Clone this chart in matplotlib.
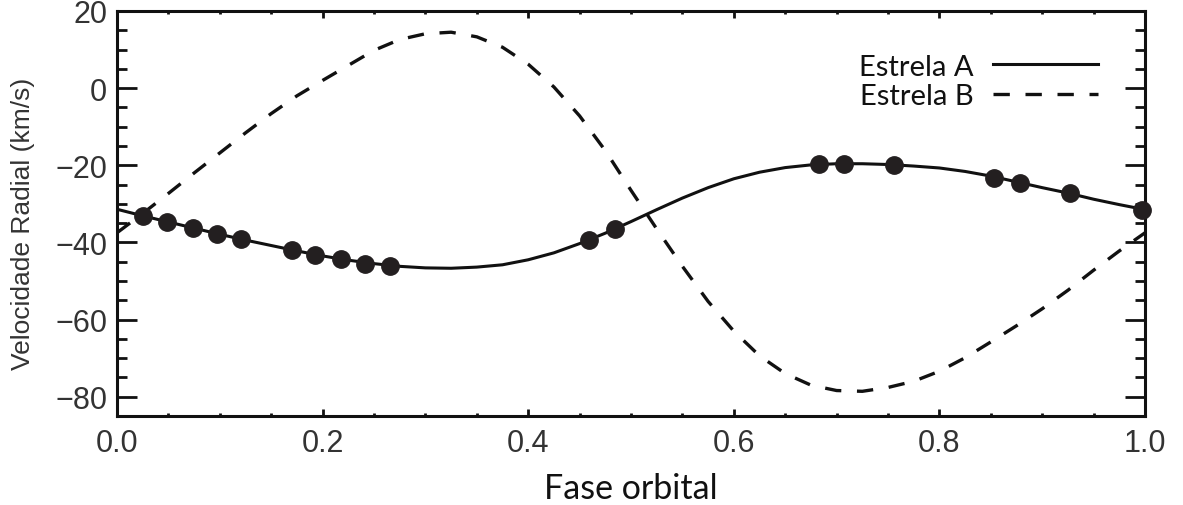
import numpy as np
import matplotlib
matplotlib.use("Agg")
import matplotlib.pyplot as plt
from matplotlib.ticker import MultipleLocator

# observed radial velocities of star A (phase, km/s)
obs_phase = [0.025, 0.049, 0.074, 0.097, 0.121, 0.170, 0.193, 0.218, 0.241, 0.266,
             0.459, 0.484, 0.683, 0.707, 0.756, 0.853, 0.878, 0.927, 0.997]
obs_vel_a = [-33.2, -34.7, -36.2, -37.7, -39.2, -41.9, -43.2, -44.4, -45.5, -46.1,
             -39.5, -36.6, -19.7, -19.7, -20.0, -23.2, -24.5, -27.2, -31.7]

# orbit model curves, read every 0.025 in phase
model_phase = [i / 40 for i in range(41)]
model_vel_a = [-31.4, -33.1, -34.7, -36.3, -37.9, -39.4, -40.8, -42.2, -43.5, -44.6,
               -45.5, -46.2, -46.6, -46.7, -46.4, -45.8, -44.5, -42.7, -40.3, -37.6,
               -34.6, -31.5, -28.5, -25.8, -23.5, -21.8, -20.6, -19.9, -19.6, -19.6,
               -19.8, -20.2, -20.7, -21.6, -22.8, -24.3, -25.8, -27.2, -28.8, -30.2,
               -31.5]
model_vel_b = [-37.5, -32.5, -27.3, -22.0, -16.8, -11.6, -6.6, -2.0, 2.0, 5.9,
               9.8, 12.6, 14.1, 14.5, 13.3, 10.6, 6.2, 0.3, -7.2, -16.2,
               -26.5, -36.5, -46.2, -55.3, -63.0, -69.4, -74.0, -77.0, -78.4, -78.6,
               -77.6, -76.0, -73.4, -69.9, -65.8, -61.6, -57.2, -52.4, -47.2, -42.2,
               -37.5]

fig = plt.figure(figsize=(11.83, 5.06), dpi=100)
ax = fig.add_axes([0.0989, 0.1759, 0.869, 0.8004])

ink = '#111111'
ax.plot(model_phase, model_vel_a, color=ink, lw=2.2, label='Estrela A', zorder=3)
ax.plot(model_phase, model_vel_b, color=ink, lw=2.4, dashes=(4.9, 4.7),
        label='Estrela B', zorder=2)
ax.plot(obs_phase, obs_vel_a, 'o', color='#231f20', ms=12.5, zorder=4, clip_on=False)

ax.set_xlim(0, 1)
ax.set_ylim(-85, 20)
ax.xaxis.set_major_locator(MultipleLocator(0.2))
ax.xaxis.set_minor_locator(MultipleLocator(0.05))
ax.yaxis.set_minor_locator(MultipleLocator(5))
ax.set_yticks([-80, -60, -40, -20, 0, 20])
ax.set_yticklabels(['\u221280', '\u221260', '\u221240', '\u221220', '0', '20'])

for s in ax.spines.values():
    s.set_linewidth(2.2)
    s.set_color(ink)

ax.tick_params(axis='both', which='both', direction='in', colors=ink,
               top=True, right=True, width=2.0)
ax.tick_params(axis='y', which='major', length=14.5, pad=7)
ax.tick_params(axis='y', which='minor', length=7.5)
ax.tick_params(axis='x', which='major', length=5, pad=9)
ax.tick_params(axis='x', which='minor', length=2.2)
for lab in ax.get_xticklabels() + ax.get_yticklabels():
    lab.set_fontfamily('Liberation Sans')
    lab.set_fontsize(22)
    lab.set_color('#333333')

ax.set_xlabel('Fase orbital', fontfamily='Lato', fontsize=24.5, color=ink, labelpad=10)
ax.set_ylabel('Velocidade Radial (km/s)', fontfamily='Liberation Sans', fontsize=19,
              color='#333333')
ax.yaxis.set_label_coords(-0.080, 0.476)

leg = ax.legend(loc='upper right', bbox_to_anchor=(0.954, 0.895), frameon=False,
                markerfirst=False, handlelength=3.6, handletextpad=0.65,
                labelspacing=0.12, borderpad=0, borderaxespad=0,
                prop={'family': 'Lato', 'size': 21})
for t in leg.get_texts():
    t.set_color(ink)

fig.savefig('out.png', dpi=100)
